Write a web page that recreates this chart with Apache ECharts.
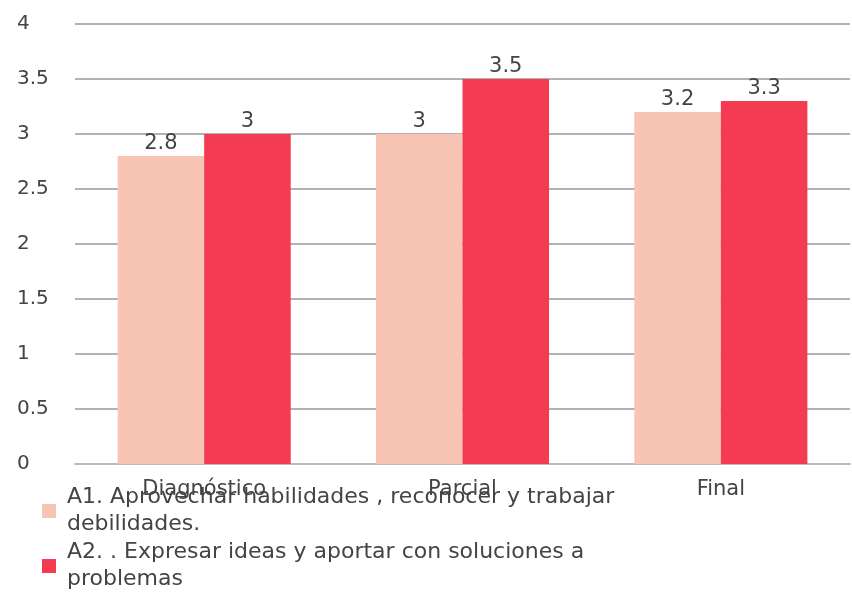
<!DOCTYPE html>
<html>
<head>
<meta charset="utf-8">
<script src="https://cdn.jsdelivr.net/npm/echarts@6/dist/echarts.min.js"></script>
<style>
  html, body { margin: 0; padding: 0; background: #fff; }
  #chart { width: 852px; height: 595px; }
</style>
</head>
<body>
<div id="chart"></div>
<script>
// data
var categories = ['Diagnóstico', 'Parcial', 'Final'];
var seriesNames = [
  'A1. Aprovechar habilidades , reconocer y trabajar\ndebilidades.',
  'A2. . Expresar ideas y aportar con soluciones a\nproblemas'
];
var a1Values = [2.8, 3, 3.2];
var a2Values = [3, 3.5, 3.3];
var yTicks = [0, 0.5, 1, 1.5, 2, 2.5, 3, 3.5, 4];

var chart = echarts.init(document.getElementById('chart'));
// the source text is wide, DejaVu is the widest plain sans we have
var font = '"DejaVu Sans", Verdana, sans-serif';

var labelStyle = {
  show: true,
  position: 'top',
  distance: 2,
  color: '#444',
  fontSize: 21,
  fontFamily: font
};

chart.setOption({
  animation: false,
  textStyle: { fontFamily: font },
  grid: { left: 75, right: 2, top: 24, bottom: 131, outerBoundsMode: 'none' },
  legend: {
    orient: 'vertical',
    left: 42,
    top: 484,
    padding: 0,
    itemWidth: 14,
    itemHeight: 14,
    itemGap: 1,
    icon: 'rect',
    textStyle: {
      fontSize: 22, color: '#444', lineHeight: 27, fontFamily: font,
      padding: [0, 0, 0, 6]
    },
    data: seriesNames
  },
  xAxis: {
    type: 'category',
    data: categories,
    axisLine: { show: true, lineStyle: { color: '#bbb', width: 2 } },
    axisTick: { show: false },
    axisLabel: { color: '#444', fontSize: 21, margin: 15, fontFamily: font }
  },
  yAxis: {
    type: 'value',
    min: yTicks[0],
    max: yTicks[yTicks.length - 1],
    interval: 0.5,
    axisLine: { show: false },
    axisTick: { show: false },
    splitLine: { lineStyle: { color: '#999', width: 1.5 } },
    axisLabel: {
      color: '#444', fontSize: 20, margin: 58, align: 'left', fontFamily: font
    }
  },
  series: [
    {
      name: seriesNames[0],
      type: 'bar',
      data: a1Values,
      barGap: '0%',
      barCategoryGap: '33%',
      itemStyle: { color: '#F8C5B5' },
      label: labelStyle
    },
    {
      name: seriesNames[1],
      type: 'bar',
      data: a2Values,
      itemStyle: { color: '#F33B51' },
      label: labelStyle
    }
  ]
});
</script>
</body>
</html>
